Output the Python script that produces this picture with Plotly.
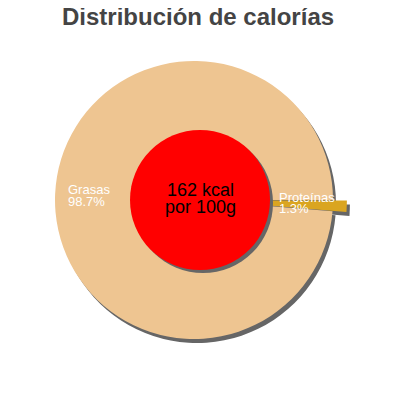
import plotly.graph_objects as go

# ---- data ----
labels = ["Proteínas", "Grasas"]
percents = [1.3, 98.7]
colors = ["#DAA520", "#EEC591"]
pulls = [0.1, 0.0]
kcal = 162
title_text = "Distribución de calorías"
center_lines = [f"{kcal} kcal", "por 100g"]

W = H = 400
OFF = 8  # page body margin
FONT = "Liberation Sans, Arial, sans-serif"

def px(x):
    return (x - OFF) / W

def py(y):
    return (H - (y - OFF)) / H

# pie geometry (screen px)
cx, cy, r = 194, 200, 139
half = r * (1 + max(pulls))

def dom(dx=0, dy=0):
    return dict(x=[px(cx - half + dx), px(cx + half + dx)],
                y=[py(cy + half + dy), py(cy - half + dy)])

fig = go.Figure()

# shadow pie
fig.add_trace(go.Pie(
    labels=labels, values=percents, pull=pulls, sort=False,
    direction="clockwise", rotation=90, textinfo="none", hoverinfo="skip",
    marker=dict(colors=["#666666"] * len(labels), line=dict(width=0)),
    domain=dom(3, 4), showlegend=False,
))
# main pie
fig.add_trace(go.Pie(
    labels=labels, values=percents, pull=pulls, sort=False,
    direction="clockwise", rotation=90, textinfo="none",
    marker=dict(colors=colors, line=dict(width=0)),
    domain=dom(), showlegend=False,
))

# center red disc with shadow
rcx, rcy, rr = 200, 200, 70
shapes = [
    dict(type="circle", xref="paper", yref="paper",
         x0=px(rcx - rr + 3), x1=px(rcx + rr + 3),
         y0=py(rcy + rr + 3), y1=py(rcy - rr + 3),
         fillcolor="#666666", line=dict(width=0), layer="above"),
    dict(type="circle", xref="paper", yref="paper",
         x0=px(rcx - rr), x1=px(rcx + rr),
         y0=py(rcy + rr), y1=py(rcy - rr),
         fillcolor="#FF0000", line=dict(width=0), layer="above"),
]

annotations = []

def text_at(txt, x, baseline, size, color, anchor="left", weight="normal"):
    annotations.append(dict(
        text=txt, x=px(x), y=py(baseline - 0.35 * size), xref="paper", yref="paper",
        xanchor=anchor, yanchor="middle", showarrow=False, borderpad=0,
        font=dict(family=FONT, size=size, color=color, weight=weight),
    ))

# title
text_at(title_text, 198, 25, 24, "#444444", anchor="center", weight="bold")
# center text
text_at(center_lines[0], 200, 196, 18, "#000000", anchor="center")
text_at(center_lines[1], 200, 213, 18, "#000000", anchor="center")
# slice labels
text_at(labels[1], 67, 194, 13, "#FFFFFF")
text_at(f"{percents[1]}%", 67, 206, 13, "#FFFFFF")
text_at(labels[0], 278, 202, 13, "#FFFFFF")
text_at(f"{percents[0]}%", 278, 213, 13, "#FFFFFF")

fig.update_layout(
    width=W, height=H, margin=dict(l=0, r=0, t=0, b=0),
    paper_bgcolor="white", plot_bgcolor="white",
    shapes=shapes, annotations=annotations, showlegend=False,
)

fig.write_html("out.html")
